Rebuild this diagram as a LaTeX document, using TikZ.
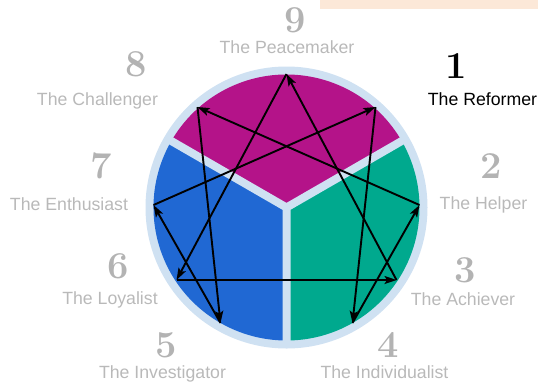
\documentclass[tikz,border=0pt]{standalone}
\usepackage{fontspec}
\newfontfamily\lblfont{Liberation Sans}
\usetikzlibrary{arrows.meta}
\definecolor{ringblue}{HTML}{CFE1F2}
\definecolor{purp}{HTML}{B41389}
\definecolor{blu}{HTML}{2068D3}
\definecolor{grn}{HTML}{00A98E}
\definecolor{txtgray}{HTML}{B9B9B9}
\definecolor{numgray}{HTML}{B3B3B3}
\definecolor{peach}{HTML}{FCE8D8}
\begin{document}
\begin{tikzpicture}[x=1pt,y=-1pt,
  lbl/.style={font=\lblfont\fontsize{17.7}{20}\selectfont, text=txtgray, anchor=base, inner sep=0},
  num/.style={font=\fontsize{38}{40}\selectfont\bfseries, text=numgray, anchor=base, inner sep=0},
  arr/.style={-{Stealth[length=12pt,width=8pt,inset=2.5pt]}, line width=1.9pt, black}]
\useasboundingbox (0,0) rectangle (538,384);
\fill[peach] (320,0) rectangle (538,8.5);
\coordinate (c) at (286.5,207.5);
\fill[ringblue] (c) circle[radius=141];
\fill[purp] (c) -- ++(-30:133) arc[start angle=-30,end angle=-150,radius=133] -- cycle;
\fill[grn] (c) -- ++(90:133) arc[start angle=90,end angle=-30,radius=133] -- cycle;
\fill[blu] (c) -- ++(-150:133) arc[start angle=-150,end angle=-270,radius=133] -- cycle;
\draw[ringblue, line width=8pt] (c) -- ++(-30:135) (c) -- ++(-150:135) (c) -- ++(90:135);
\coordinate (p9) at (286.5,74);
\coordinate (p1) at (375.5,107);
\coordinate (p8) at (197.5,107);
\coordinate (p2) at (419.5,205);
\coordinate (p7) at (153.5,205);
\coordinate (p3) at (396.5,280);
\coordinate (p6) at (176.5,280);
\coordinate (p4) at (352.5,323);
\coordinate (p5) at (220.5,323);
\draw[arr] (p1) -- (p4);
\draw[arr] (p4) -- (p2);
\draw[arr] (p2) -- (p8);
\draw[arr] (p8) -- (p5);
\draw[arr] (p5) -- (p7);
\draw[arr] (p7) -- (p1);
\draw[arr] (p9) -- (p6);
\draw[arr] (p6) -- (p3);
\draw[arr] (p3) -- (p9);
\node[num] (n9) at (295,32) {9};
\node[lbl] (t9) at (287,53) {The Peacemaker};
\node[num,text=black] (n1) at (456.5,78) {1};
\node[lbl,text=black] (t1) at (482.5,105) {The Reformer};
\node[num] (n2) at (491,178) {2};
\node[lbl] (t2) at (483.5,209) {The Helper};
\node[num] (n3) at (465,282) {3};
\node[lbl] (t3) at (463,305) {The Achiever};
\node[num] (n4) at (388,357) {4};
\node[lbl] (t4) at (384.5,378) {The Individualist};
\node[num] (n5) at (166.5,357) {5};
\node[lbl] (t5) at (162.5,378) {The Investigator};
\node[num] (n6) at (118,278) {6};
\node[lbl] (t6) at (110,304) {The Loyalist};
\node[num] (n7) at (101.5,178) {7};
\node[lbl] (t7) at (69,210) {The Enthusiast};
\node[num] (n8) at (136.5,76) {8};
\node[lbl] (t8) at (97.5,105) {The Challenger};
\end{tikzpicture}
\end{document}
